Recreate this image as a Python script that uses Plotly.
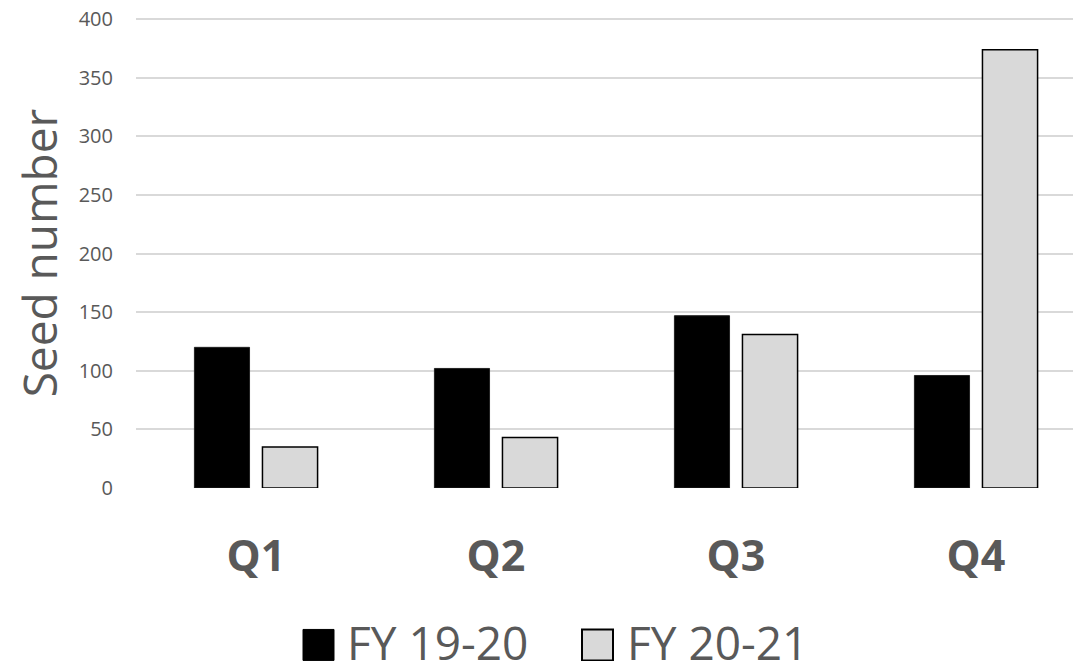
import plotly.graph_objects as go

quarters = ["Q1", "Q2", "Q3", "Q4"]
fy1920 = [120, 102, 147, 96]
fy2021 = [35, 43, 131, 374]
series_names = ["FY 19-20", "FY 20-21"]
series_fill = ["#000000", "#D9D9D9"]
series_edge = ["#000000", "#000000"]
y_ticks = [0, 50, 100, 150, 200, 250, 300, 350, 400]
y_top = 401

FONT = "Open Sans"
TXT = "#595959"
OFF = 8  # default page body margin
W, H = 1081 - OFF, 661 - OFF
UNIT = 469 / 400  # px per value unit
# plot area in page pixels: x 136..1081, bottom at 488
L, R = 136 - OFF, 0
B = 661 - 488
T = (488 - y_top * UNIT) - OFF


def px_x(p):
    return (p - OFF - L) / (W - L - R)


def px_y(p):
    return (H - B - (p - OFF)) / (H - T - B)


fig = go.Figure()
fig.add_trace(go.Bar(x=quarters, y=fy1920, name=series_names[0], showlegend=False,
                     marker=dict(color=series_fill[0], line=dict(color="#222222", width=1))))
fig.add_trace(go.Bar(x=quarters, y=fy2021, name=series_names[1], showlegend=False,
                     marker=dict(color=series_fill[1], line=dict(color="#000000", width=1.5))))

# manual legend (large square keys), positions in page pixels
legend_sq_left = [303, 582]
legend_text_left = [345, 625]
sq = 31
legend_mid = 645
shapes = []
annotations = []
for i in range(2):
    shapes.append(dict(type="rect", xref="paper", yref="paper",
                       x0=px_x(legend_sq_left[i]), x1=px_x(legend_sq_left[i] + sq),
                       y0=px_y(legend_mid + sq / 2), y1=px_y(legend_mid - sq / 2),
                       fillcolor=series_fill[i],
                       line=dict(color=series_edge[i], width=2 if i == 1 else 1)))
    annotations.append(dict(text=series_names[i], xref="paper", yref="paper",
                            x=px_x(legend_text_left[i]), y=px_y(legend_mid - 3),
                            xanchor="left", yanchor="middle", showarrow=False,
                            font=dict(family=FONT, size=46, color=TXT)))

fig.update_layout(
    width=W, height=H,
    margin=dict(l=L, r=R, t=T, b=B, autoexpand=False),
    paper_bgcolor="white", plot_bgcolor="white",
    barmode="group", bargap=0.433, bargroupgap=0.19,
    font=dict(family=FONT, color=TXT),
    showlegend=False,
    shapes=shapes, annotations=annotations,
    xaxis=dict(type="category", range=[-0.5, 3.4375], showgrid=False, showline=False,
               zeroline=False, ticks="outside", ticklen=30, tickcolor="rgba(0,0,0,0)",
               automargin=False, ticklabeloverflow="allow",
               tickfont=dict(family=FONT, size=43, color=TXT, weight="bold")),
    yaxis=dict(range=[0, y_top], tickvals=y_ticks, showgrid=True, gridcolor="#D9D9D9",
               gridwidth=1.5, zeroline=False, showline=False, ticks="outside",
               ticklen=18, tickcolor="rgba(0,0,0,0)", automargin=False,
               ticklabeloverflow="allow",
               tickfont=dict(family=FONT, size=20, color=TXT),
               title=dict(text="Seed number", font=dict(family=FONT, size=46, color=TXT),
                          standoff=20)),
)

fig.write_html("out.html")
